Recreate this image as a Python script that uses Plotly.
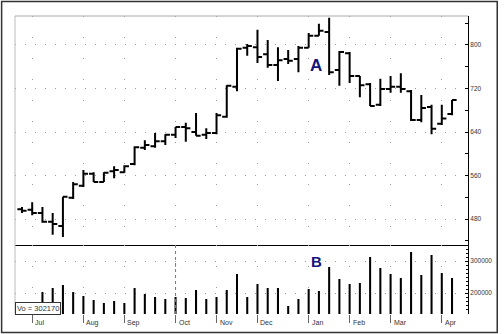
import plotly.graph_objects as go

# ---- data (weekly bars) ----
weeks = list(range(43))
opens = [498, 497, 491, 475, 467, 519, 541, 563, 548, 568, 566, 581, 611, 614, 623,
         635, 649, 640, 635, 638, 668, 723, 795, 796, 783, 763, 774, 774, 795, 817,
         824, 754, 785, 743, 728, 690, 719, 723, 715, 662, 686, 655, 673]
highs = [502, 511, 502, 491, 521, 548, 570, 566, 566, 577, 579, 614, 625, 638, 636,
         649, 657, 675, 647, 675, 726, 795, 802, 828, 809, 796, 791, 798, 822, 839,
         850, 789, 787, 743, 730, 738, 743, 748, 717, 708, 690, 690, 699]
lows = [491, 487, 473, 451, 447, 517, 539, 548, 548, 555, 565, 579, 607, 611, 616,
        629, 622, 633, 627, 636, 666, 715, 780, 767, 758, 734, 765, 750, 795, 817,
        745, 725, 730, 704, 688, 688, 712, 712, 660, 658, 636, 653, 671]
closes = [495, 491, 475, 471, 521, 544, 563, 548, 565, 570, 577, 612, 616, 623, 635,
          649, 647, 633, 638, 671, 725, 793, 798, 778, 763, 772, 771, 795, 817, 826,
          750, 787, 743, 726, 688, 719, 723, 719, 662, 684, 646, 665, 699]
volumes = [150000, 160000, 203000, 215600, 225000, 203000, 190600, 178100, 168800, 175000,
           168800, 215600, 196900, 187500, 181300, 187500, 184400, 209400, 181300, 187500,
           209400, 259400, 187500, 228100, 215600, 215600, 159400, 181300, 212500, 206300,
           281300, 243800, 228100, 231300, 312500, 278100, 259400, 246900, 328100, 256300,
           318800, 262500, 246900]
month_labels = ["Jul", "Aug", "Sep", "Oct", "Nov", "Dec", "Jan", "Feb", "Mar", "Apr"]
month_start_week = [1, 6, 10, 15, 19, 23, 28, 32, 36, 41]
volume_ticks = [200000, 300000]
volume_note = "Vo = 302170"

# ---- figure ----
W, H = 504, 334
L, R, T, B = 15, 32, 16, 20
plot_w = W - L - R
plot_h = H - T - B
split = (314 - 245) / plot_h

def px_x(px):
    return (px - L) / plot_w

def px_y(py):
    return (H - B - py) / plot_h

xgrid_kw = dict(showgrid=True, gridcolor="#9a9a9a", gridwidth=1, griddash="1px,20px")
ygrid_kw = dict(showgrid=True, gridcolor="#9a9a9a", gridwidth=1, griddash="1px,9px")
tick_font = dict(family="Liberation Sans", size=6.5, color="#333")

fig = go.Figure()
fig.add_trace(go.Ohlc(
    x=weeks, open=opens, high=highs, low=lows, close=closes,
    increasing=dict(line=dict(color="black", width=2)),
    decreasing=dict(line=dict(color="black", width=2)),
    tickwidth=0.45, xaxis="x", yaxis="y", hoverinfo="skip"))
fig.add_trace(go.Bar(
    x=weeks, y=volumes, width=0.2, xaxis="x2", yaxis="y2",
    marker=dict(color="black", line=dict(width=0)), hoverinfo="skip"))

xr = [-0.68, 43.56]
fig.update_layout(
    width=W, height=H, margin=dict(l=L, r=R, t=T, b=B),
    paper_bgcolor="white", plot_bgcolor="white", showlegend=False,
    xaxis=dict(domain=[0, 1], anchor="y", range=xr, tickvals=month_start_week,
               showticklabels=False, ticks="", zeroline=False,
               showline=True, linecolor="black", linewidth=1,
               rangeslider=dict(visible=False), **xgrid_kw),
    yaxis=dict(domain=[split, 1], anchor="x", side="right", range=[432.2, 853.3],
               tick0=0, dtick=80, ticks="inside", ticklen=3, tickcolor="black",
               showline=True, linecolor="black", linewidth=1, zeroline=False,
               tickfont=tick_font,
               minor=dict(dtick=40, ticks="inside", ticklen=3, tickcolor="black",
                          showgrid=False),
               **ygrid_kw),
    xaxis2=dict(domain=[0, 1], anchor="y2", range=xr, tickvals=month_start_week,
                showticklabels=False, ticks="outside", ticklen=8, tickcolor="#666",
                zeroline=False, showline=False, **xgrid_kw),
    yaxis2=dict(domain=[0, split], anchor="x2", side="right", range=[134375, 350000],
                tickvals=volume_ticks, tickformat="d", ticks="inside", ticklen=3,
                tickcolor="black", showline=True, linecolor="black", linewidth=1,
                zeroline=False, tickfont=tick_font,
                minor=dict(dtick=12500, ticks="inside", ticklen=2, tickcolor="black",
                           showgrid=False),
                **ygrid_kw),
)

annotations = []
for lbl, wk in zip(month_labels, month_start_week):
    annotations.append(dict(x=wk, y=px_y(322.5), xref="x2", yref="paper", text=lbl,
                            showarrow=False, xanchor="left", yanchor="middle", xshift=1,
                            font=dict(family="Liberation Sans", size=7, color="#333")))
annotations.append(dict(x=28.7, y=763, xref="x", yref="y", text="<b>A</b>",
                        showarrow=False, font=dict(family="Liberation Sans", size=17,
                                                   color="#14147a")))
annotations.append(dict(x=28.8, y=297000, xref="x2", yref="y2", text="<b>B</b>",
                        showarrow=False, font=dict(family="Liberation Sans", size=15,
                                                   color="#14147a")))
annotations.append(dict(x=0, y=px_y(308), xref="paper", yref="paper", text=volume_note,
                        showarrow=False, xanchor="left", yanchor="middle",
                        bgcolor="white", bordercolor="#333", borderwidth=1, borderpad=1,
                        font=dict(family="Liberation Sans", size=7.5, color="#333")))
fig.update_layout(annotations=annotations)

shapes = [
    dict(type="rect", xref="paper", yref="paper", x0=px_x(1.5), x1=px_x(501.5),
         y0=px_y(332.5), y1=px_y(1.5), line=dict(color="#333", width=1.5)),
    dict(type="line", xref="paper", yref="paper", x0=0, x1=0, y0=0, y1=1,
         line=dict(color="#bbbbbb", width=1)),
    dict(type="line", xref="paper", yref="paper", x0=0, x1=1, y0=1, y1=1,
         line=dict(color="#aaaaaa", width=1)),
    dict(type="line", xref="x2", yref="y2 domain", x0=month_start_week[3],
         x1=month_start_week[3], y0=0, y1=1, line=dict(color="#777", width=1, dash="dot")),
]
fig.update_layout(shapes=shapes)

fig.write_html("out.html")
